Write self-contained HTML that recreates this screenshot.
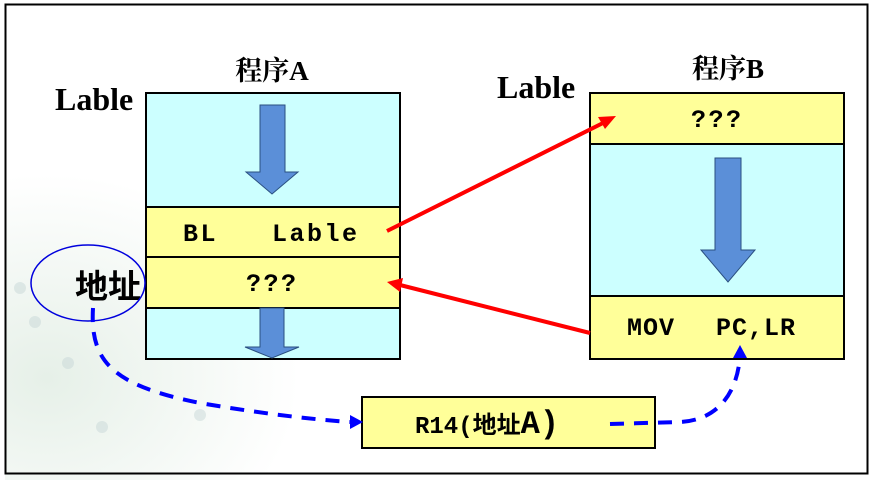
<!DOCTYPE html>
<html><head><meta charset="utf-8"><style>
body{margin:0;width:874px;height:481px;background:#fff;overflow:hidden}
svg text{font-weight:bold}
</style></head><body>
<svg width="874" height="481" xmlns="http://www.w3.org/2000/svg">
<defs>
<radialGradient id="g" cx="0.1" cy="0.7" r="0.6">
<stop offset="0" stop-color="#e6f0e8"/><stop offset="1" stop-color="#fff"/>
</radialGradient>
</defs>
<rect x="0" y="0" width="874" height="481" fill="#fff"/>
<rect x="5" y="140" width="420" height="340" fill="url(#g)"/>
<g fill="#c8d8d8" opacity="0.5">
<circle cx="20" cy="288" r="6"/><circle cx="35" cy="322" r="6"/><circle cx="68" cy="363" r="6"/><circle cx="102" cy="427" r="6"/><circle cx="200" cy="415" r="6"/>
</g>
<rect x="5.5" y="4.5" width="862" height="469" fill="none" stroke="#000" stroke-width="2"/>
<!-- Program A -->
<text x="272" y="80" font-family="Liberation Serif, Noto Serif CJK SC, serif" font-size="27" text-anchor="middle">程序A</text>
<text x="55" y="110" font-family="Liberation Serif, serif" font-size="32">Lable</text>
<rect x="146" y="93" width="254" height="266" fill="#ccffff" stroke="#000" stroke-width="2"/>
<rect x="146" y="207" width="254" height="50" fill="#ffff99" stroke="#000" stroke-width="2"/>
<rect x="146" y="257" width="254" height="51" fill="#ffff99" stroke="#000" stroke-width="2"/>
<polygon points="260,105 285,105 285,172 298,172 272,194 246,172 260,172" fill="#5b8fd8" stroke="#2a4f80" stroke-width="1"/>
<polygon points="260,308 284,308 284,347 299,347 272,358 245,347 260,347" fill="#5b8fd8" stroke="#2a4f80" stroke-width="1"/>
<text x="183" y="241" font-family="Liberation Mono, monospace" font-size="25" letter-spacing="2.5">BL</text>
<text x="272" y="241" font-family="Liberation Mono, monospace" font-size="25" letter-spacing="2.5">Lable</text>
<text x="246" y="291" font-family="Liberation Mono, monospace" font-size="25" letter-spacing="2.5">???</text>
<text x="75" y="298" font-family="Noto Sans CJK SC, sans-serif" font-size="33">地址</text>
<ellipse cx="88" cy="283" rx="57" ry="38" fill="none" stroke="#0000dd" stroke-width="1.5"/>
<!-- Program B -->
<text x="728" y="78" font-family="Liberation Serif, Noto Serif CJK SC, serif" font-size="27" text-anchor="middle">程序B</text>
<text x="497" y="98" font-family="Liberation Serif, serif" font-size="32">Lable</text>
<rect x="590" y="93" width="254" height="266" fill="#ccffff" stroke="#000" stroke-width="2"/>
<rect x="590" y="93" width="254" height="51" fill="#ffff99" stroke="#000" stroke-width="2"/>
<rect x="590" y="296" width="254" height="63" fill="#ffff99" stroke="#000" stroke-width="2"/>
<polygon points="715,158 741,158 741,250 755,250 728,282 701,250 715,250" fill="#5b8fd8" stroke="#2a4f80" stroke-width="1"/>
<text x="691" y="127" font-family="Liberation Mono, monospace" font-size="25" letter-spacing="2.5">???</text>
<text x="627" y="335" font-family="Liberation Mono, monospace" font-size="25" letter-spacing="1">MOV</text>
<text x="716" y="335" font-family="Liberation Mono, monospace" font-size="25" letter-spacing="1">PC,LR</text>
<!-- R14 -->
<rect x="362" y="397" width="293" height="51" fill="#ffff99" stroke="#000" stroke-width="2"/>
<text x="415" y="433" font-family="Liberation Mono, Noto Sans CJK SC, monospace" font-size="24">R14(地址<tspan font-size="32">A)</tspan></text>
<!-- red arrows -->
<line x1="387" y1="231" x2="603" y2="123" stroke="#ff0000" stroke-width="4"/>
<polygon points="616,116 598,117 605,129" fill="#ff0000"/>
<line x1="590" y1="333" x2="400" y2="285" stroke="#ff0000" stroke-width="4"/>
<polygon points="387,282 403,278 400,292" fill="#ff0000"/>
<!-- blue dashed -->
<path d="M93,308 C90,360 110,385 200,403 C270,415 320,420 350,422" fill="none" stroke="#0000ff" stroke-width="4" stroke-dasharray="14,10"/>
<polygon points="363,422 350,415 350,429" fill="#0000ff"/>
<path d="M610,424 L680,422 C720,420 738,390 740,355" fill="none" stroke="#0000ff" stroke-width="4" stroke-dasharray="14,10"/>
<polygon points="740,345 733,358 747,358" fill="#0000ff"/>
</svg>
</body></html>
